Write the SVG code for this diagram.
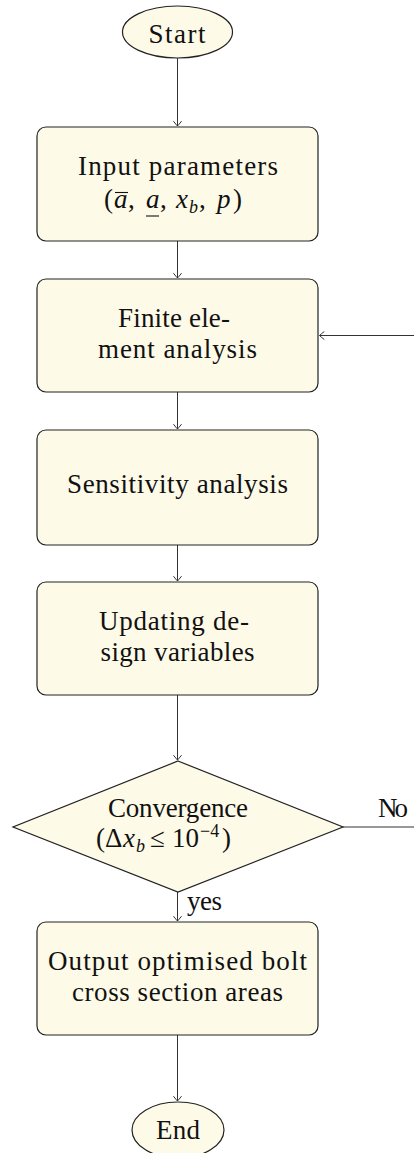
<svg xmlns="http://www.w3.org/2000/svg" width="414" height="1153" viewBox="0 0 414 1153">
  <defs>
    <marker id="tip" viewBox="-6 -5 8 10" markerWidth="8" markerHeight="10" refX="0" refY="0" orient="auto" markerUnits="userSpaceOnUse">
      <path d="M -4.5 -3.8 Q -1.2 -1.2 0 0 Q -1.2 1.2 -4.5 3.8" fill="none" stroke="#333" stroke-width="1" stroke-linecap="round"/>
    </marker>
    <style>
      .node { fill: #fefae8; stroke: #222; stroke-width: 1.2; }
      .edge { fill: none; stroke: #333; stroke-width: 1; }
      .lbl { font-family: "Liberation Serif", "DejaVu Serif", serif; font-size: 27px; fill: #111; text-anchor: middle; }
      .math { font-family: "Liberation Serif", "DejaVu Serif", serif; font-size: 27px; fill: #111; }
      .it { font-style: italic; }
      .sub { font-size: 18px; font-style: italic; }
      .sup { font-size: 18px; }
      .bar { stroke: #111; stroke-width: 1.1; }
    </style>
  </defs>

  <!-- connectors -->
  <g id="edges">
    <line class="edge" x1="177.5" y1="58" x2="177.5" y2="126" marker-end="url(#tip)"/>
    <line class="edge" x1="177.5" y1="241" x2="177.5" y2="278" marker-end="url(#tip)"/>
    <line class="edge" x1="177.5" y1="392" x2="177.5" y2="429" marker-end="url(#tip)"/>
    <line class="edge" x1="177.5" y1="545" x2="177.5" y2="581" marker-end="url(#tip)"/>
    <line class="edge" x1="177.5" y1="695" x2="177.5" y2="760" marker-end="url(#tip)"/>
    <line class="edge" x1="177.5" y1="892" x2="177.5" y2="921" marker-end="url(#tip)"/>
    <line class="edge" x1="177.5" y1="1035" x2="177.5" y2="1101" marker-end="url(#tip)"/>
    <path class="edge" d="M 343 827 H 440 V 335.5 H 319.5" marker-end="url(#tip)"/>
    <text class="lbl" x="204.5" y="910" textLength="35">yes</text>
    <text class="lbl" x="393" y="817" textLength="30">No</text>
  </g>

  <g id="start">
    <ellipse class="node" cx="177.5" cy="32" rx="55" ry="26"/>
    <text class="lbl" x="177" y="43" textLength="57">Start</text>
  </g>

  <g id="input">
    <rect class="node" x="37" y="127" width="281" height="114" rx="9"/>
    <text class="lbl" x="178" y="175" textLength="200">Input parameters</text>
    <text class="math" y="208"><tspan x="104">(</tspan><tspan class="it" x="114">a</tspan><tspan x="128">,</tspan><tspan class="it" x="146">a</tspan><tspan x="160">,</tspan><tspan class="it" x="176">x</tspan><tspan class="sub" x="189" dy="5">b</tspan><tspan x="199" dy="-5">,</tspan><tspan class="it" x="217">p</tspan><tspan x="233">)</tspan></text>
    <line class="bar" x1="115" y1="192.5" x2="128" y2="192.5"/>
    <line class="bar" x1="146" y1="216" x2="159" y2="216"/>
  </g>

  <g id="fea">
    <rect class="node" x="37" y="279" width="281" height="113" rx="9"/>
    <text class="lbl" x="174" y="327" textLength="112">Finite ele-</text>
    <text class="lbl" x="177.5" y="358" textLength="159">ment analysis</text>
  </g>

  <g id="sensitivity">
    <rect class="node" x="37" y="430" width="281" height="115" rx="9"/>
    <text class="lbl" x="177.5" y="493" textLength="221">Sensitivity analysis</text>
  </g>

  <g id="update">
    <rect class="node" x="37" y="582" width="281" height="113" rx="9"/>
    <text class="lbl" x="174" y="630" textLength="150">Updating de-</text>
    <text class="lbl" x="177.5" y="661" textLength="154">sign variables</text>
  </g>

  <g id="convergence">
    <polygon class="node" points="178,761 343,827 178,892 13,827"/>
    <text class="lbl" x="178" y="817" textLength="140">Convergence</text>
    <text class="math" y="847"><tspan x="96">(</tspan><tspan x="105">Δ</tspan><tspan class="it" x="123">x</tspan><tspan class="sub" x="136" dy="5">b</tspan><tspan x="150" dy="-5">≤</tspan><tspan x="172">10</tspan><tspan class="sup" x="200" dy="-10">−4</tspan><tspan x="222" dy="10">)</tspan></text>
  </g>

  <g id="output">
    <rect class="node" x="37" y="922" width="281" height="113" rx="9"/>
    <text class="lbl" x="177.5" y="970" textLength="259">Output optimised bolt</text>
    <text class="lbl" x="177.5" y="1001" textLength="211">cross section areas</text>
  </g>

  <g id="end">
    <ellipse class="node" cx="178" cy="1130" rx="46" ry="28"/>
    <text class="lbl" x="178" y="1139" textLength="44">End</text>
  </g>
</svg>
